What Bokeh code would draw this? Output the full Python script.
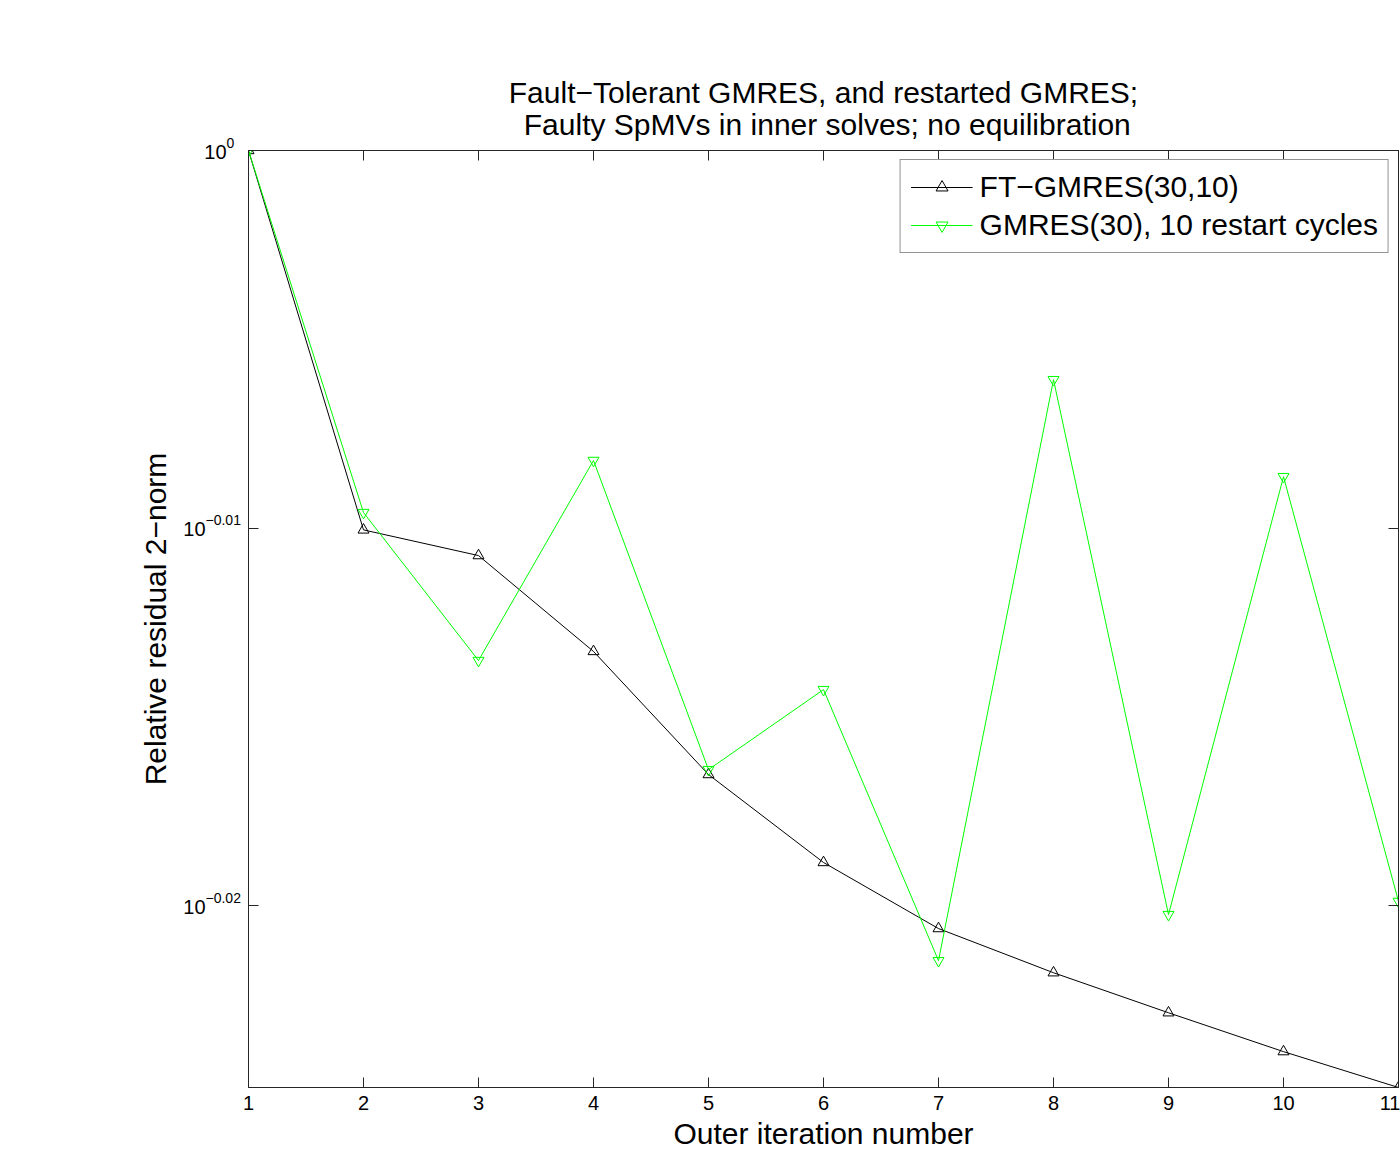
import math
from bokeh.plotting import figure
from bokeh.layouts import row
from bokeh.models import (Range1d, FixedTicker, LinearAxis, LogAxis, Title,
                          Legend, LegendItem, CustomJSTickFormatter)
from bokeh.core.properties import value
from bokeh.embed import file_html
from bokeh.resources import INLINE

# ---- data ----
iterations = [1, 2, 3, 4, 5, 6, 7, 8, 9, 10, 11]
ft_gmres_log10 = [0.0, -0.01005, -0.01073, -0.01327, -0.01653, -0.01886,
                  -0.02061, -0.02178, -0.02284, -0.02387, -0.02482]
gmres_log10 = [0.0, -0.00959, -0.01351, -0.00821, -0.01640, -0.01428,
               -0.02146, -0.00607, -0.02024, -0.00864, -0.01989]
ft_gmres = [10 ** v for v in ft_gmres_log10]
gmres = [10 ** v for v in gmres_log10]

x_ticks = [1, 2, 3, 4, 5, 6, 7, 8, 9, 10, 11]
y_tick_vals = [1.0, 10 ** -0.01, 10 ** -0.02]
y_tick_base = ["10", "10", "10"]
y_tick_exps = ["0", "\u22120.01", "\u22120.02"]

title_text = ("Fault\u2212Tolerant GMRES, and restarted GMRES;\n"
              "\u2002Faulty SpMVs in inner solves; no equilibration")
x_label = "Outer iteration number"
y_label = "Relative residual 2\u2212norm"
legend_labels = ["FT\u2212GMRES(30,10)", "GMRES(30), 10 restart cycles"]

# ---- layout / style ----
FONT = "Liberation Sans"
AX = "#262626"
Y_LO_LOG, Y_HI_LOG = -0.02482, 0.0
FRAME_H = 937
TOP, BOTTOM = 150, 66
LEFT_W = 241
LEFT_EXTRA_TOP = 40          # extra room above frame in the label strip
label_anchor_x = [226, 205, 205]   # where "10" ends / exponent starts

y_range = Range1d(10 ** Y_LO_LOG, 10 ** Y_HI_LOG)
empty_fmt = CustomJSTickFormatter(code="return ''")

p = figure(width=1400 - LEFT_W, height=1153, output_backend="svg",
           toolbar_location=None, y_axis_type="log", title=None,
           x_range=Range1d(1, 11), y_range=y_range,
           min_border_left=248 - LEFT_W, min_border_right=2,
           min_border_top=TOP, min_border_bottom=BOTTOM)
p.frame_align = False
p.background_fill_color = "white"
p.border_fill_color = "white"
p.outline_line_color = AX
p.outline_line_width = 1
p.grid.visible = False


def style_axis(ax, show_labels):
    ax.axis_line_color = AX
    ax.major_tick_line_color = AX
    ax.major_tick_in = 10
    ax.major_tick_out = 0
    ax.minor_tick_in = 0
    ax.minor_tick_out = 0
    ax.minor_tick_line_color = None
    if not show_labels:
        ax.formatter = empty_fmt
        ax.major_label_standoff = 0


xa = p.xaxis[0]
xa.ticker = FixedTicker(ticks=x_ticks)
style_axis(xa, True)
xa.major_label_text_font = FONT
xa.major_label_text_font_size = "20px"
xa.major_label_text_color = "black"
xa.major_label_standoff = 8
xa.axis_label = x_label
xa.axis_label_text_font = FONT
xa.axis_label_text_font_size = "30px"
xa.axis_label_text_font_style = "normal"
xa.axis_label_text_color = "black"
xa.axis_label_standoff = 4

ya = p.yaxis[0]
ya.ticker = FixedTicker(ticks=y_tick_vals)
style_axis(ya, False)

top = LinearAxis(ticker=FixedTicker(ticks=x_ticks))
style_axis(top, False)
p.add_layout(top, "above")
right = LogAxis(ticker=FixedTicker(ticks=y_tick_vals))
style_axis(right, False)
p.add_layout(right, "right")

p.add_layout(Title(text=title_text, align="center", text_font=FONT,
                   text_font_size="30px", text_font_style="normal",
                   text_line_height=0.98, text_color="black", standoff=18),
             "above")

r1 = p.line(iterations, ft_gmres, line_color="black", line_width=1)
m1 = p.scatter(iterations, ft_gmres, marker="triangle", size=11,
               line_color="black", fill_color=None, line_width=1)
r2 = p.line(iterations, gmres, line_color="#00ff00", line_width=1)
m2 = p.scatter(iterations, gmres, marker="inverted_triangle", size=11,
               line_color="#00ff00", fill_color=None, line_width=1)

legend = Legend(items=[LegendItem(label=legend_labels[0], renderers=[r1, m1]),
                       LegendItem(label=legend_labels[1], renderers=[r2, m2])],
                location="top_right", margin=9, padding=10, spacing=4,
                glyph_width=62, glyph_height=30, label_height=30,
                label_standoff=7, label_text_font=FONT,
                label_text_font_size="30px", label_text_color="black",
                border_line_color=AX, border_line_width=1,
                background_fill_color="white", background_fill_alpha=1)
p.add_layout(legend)

# ---- left strip with y tick labels and y axis label ----
ext = LEFT_EXTRA_TOP * (Y_HI_LOG - Y_LO_LOG) / FRAME_H
lf = figure(width=LEFT_W, height=1153, output_backend="svg",
            toolbar_location=None, y_axis_type="log", title=None,
            x_range=Range1d(0, LEFT_W),
            y_range=Range1d(10 ** Y_LO_LOG, 10 ** (Y_HI_LOG + ext)),
            min_border_left=0, min_border_right=0,
            min_border_top=TOP - LEFT_EXTRA_TOP, min_border_bottom=BOTTOM,
            x_axis_location=None, y_axis_location=None)
lf.frame_align = False
lf.outline_line_color = None
lf.grid.visible = False
lf.background_fill_color = "white"
lf.border_fill_color = "white"

lf.text(x=label_anchor_x, y=y_tick_vals, text=y_tick_base,
        text_align="right", text_baseline="middle", y_offset=1,
        text_font=value(FONT), text_font_size="20px", text_color="black")
lf.text(x=label_anchor_x, y=y_tick_vals, text=y_tick_exps,
        text_align="left", text_baseline="bottom", y_offset=-3,
        text_font=value(FONT), text_font_size="14px", text_color="black")
lf.text(x=[155], y=[10 ** ((Y_LO_LOG + Y_HI_LOG) / 2)], text=[y_label],
        angle=math.pi / 2, text_align="center", text_baseline="middle",
        text_font=value(FONT), text_font_size="30px", text_color="black")

layout = row(lf, p)
open("out.html", "w").write(file_html(layout, INLINE))
